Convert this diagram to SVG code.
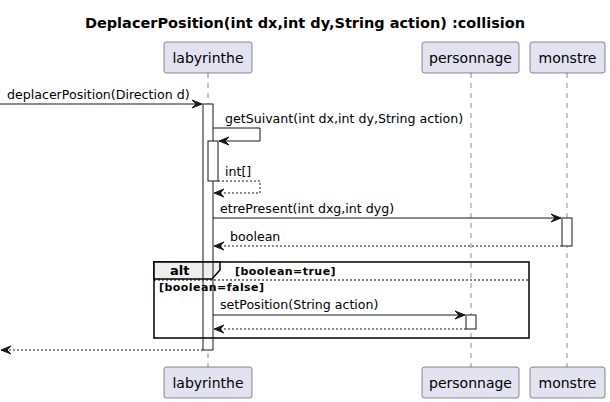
<svg xmlns="http://www.w3.org/2000/svg" width="610" height="402" viewBox="0 0 610 402">
<defs>
<style>
text{font-family:"DejaVu Sans","Noto Sans",sans-serif;fill:#000}
.title{font-size:14.5px;font-weight:bold}
.pname{font-size:14px}
.msg{font-size:12.6px}
.guard{font-size:11px;font-weight:bold;letter-spacing:0.45px}
.alt{font-size:13px;font-weight:bold}
.pbox{fill:#E2E2F0;stroke:#181818;stroke-width:0.5}
.life{stroke:#181818;stroke-width:0.5;stroke-dasharray:5,5;fill:none}
.actfill{fill:#fff;stroke:none}
.act{fill:none;stroke:#181818;stroke-width:1}
.line{stroke:#181818;stroke-width:1;fill:none}
.dash{stroke:#181818;stroke-width:1;stroke-dasharray:2,2;fill:none}
.head{fill:#181818;stroke:#181818;stroke-width:1}
.frame{fill:none;stroke:#000;stroke-width:1.5}
</style>
</defs>
<rect width="610" height="402" fill="#fff"/>
<text class="title" x="305" y="28" text-anchor="middle">DeplacerPosition(int dx,int dy,String action) :collision</text>

<g id="lifelines">
<line class="life" x1="208" y1="73" x2="208" y2="367"/>
<line class="life" x1="471" y1="73" x2="471" y2="367"/>
<line class="life" x1="567" y1="73" x2="567" y2="367"/>
</g>

<g id="labyrinthe">
<rect class="pbox" x="164" y="42" width="88" height="31" rx="2.5"/>
<text class="pname" x="208" y="63" text-anchor="middle">labyrinthe</text>
<rect class="pbox" x="164" y="367" width="88" height="31" rx="2.5"/>
<text class="pname" x="208" y="388" text-anchor="middle">labyrinthe</text>
</g>
<g id="personnage">
<rect class="pbox" x="422" y="42" width="97" height="31" rx="2.5"/>
<text class="pname" x="470.5" y="63" text-anchor="middle">personnage</text>
<rect class="pbox" x="422" y="367" width="97" height="31" rx="2.5"/>
<text class="pname" x="470.5" y="388" text-anchor="middle">personnage</text>
</g>
<g id="monstre">
<rect class="pbox" x="530" y="42" width="75" height="31" rx="2.5"/>
<text class="pname" x="567.5" y="63" text-anchor="middle">monstre</text>
<rect class="pbox" x="530" y="367" width="75" height="31" rx="2.5"/>
<text class="pname" x="567.5" y="388" text-anchor="middle">monstre</text>
</g>

<g id="activation-fills">
<rect class="actfill" x="203" y="104" width="10" height="246"/>
<rect class="actfill" x="208" y="141" width="10" height="40"/>
<rect class="actfill" x="562" y="218" width="10" height="28"/>
<rect class="actfill" x="466" y="315" width="10" height="14"/>
</g>

<g id="alt-frame">
<rect class="frame" x="154" y="262" width="375" height="76"/>
<path d="M154,262 H220 V270 L212,279 H154 Z" fill="#EEEEEE" stroke="#000" stroke-width="1.5"/>
<text class="alt" x="170" y="275">alt</text>
<text class="guard" x="235" y="275">[boolean=true]</text>
<line x1="154" y1="280" x2="529" y2="280" stroke="#000" stroke-width="1" stroke-dasharray="2,2"/>
<text class="guard" x="159" y="291">[boolean=false]</text>
</g>

<g id="activations">
<rect class="act" x="203" y="104" width="10" height="246"/>
<rect class="act" x="208" y="141" width="10" height="40" fill="#fff" style="fill:#fff"/>
<rect class="act" x="562" y="218" width="10" height="28"/>
<rect class="act" x="466" y="315" width="10" height="14"/>
</g>

<g id="connectors">
<line class="line" x1="0" y1="104" x2="202" y2="104"/>
<polygon class="head" points="192,100 202,104 192,108 196,104"/>
<text class="msg" x="7" y="99">deplacerPosition(Direction d)</text>

<polyline class="line" points="213,128 260,128 260,141 219,141"/>
<polygon class="head" points="229,137 219,141 229,145 225,141"/>
<text class="msg" x="225" y="123">getSuivant(int dx,int dy,String action)</text>

<polyline class="dash" points="218,181 260,181 260,193 214,193"/>
<polygon class="head" points="224,189 214,193 224,197 220,193"/>
<text class="msg" x="225" y="176">int[]</text>

<line class="line" x1="213" y1="218" x2="561" y2="218"/>
<polygon class="head" points="551,214 561,218 551,222 555,218"/>
<text class="msg" x="220" y="213">etrePresent(int dxg,int dyg)</text>

<line class="dash" x1="562" y1="246" x2="214" y2="246"/>
<polygon class="head" points="224,242 214,246 224,250 220,246"/>
<text class="msg" x="230" y="241">boolean</text>

<line class="line" x1="213" y1="315" x2="465" y2="315"/>
<polygon class="head" points="455,311 465,315 455,319 459,315"/>
<text class="msg" x="220" y="309">setPosition(String action)</text>

<line class="dash" x1="466" y1="329" x2="214" y2="329"/>
<polygon class="head" points="224,325 214,329 224,333 220,329"/>

<line class="dash" x1="203" y1="350" x2="1" y2="350"/>
<polygon class="head" points="11,346 1,350 11,354 7,350"/>
</g>
</svg>
